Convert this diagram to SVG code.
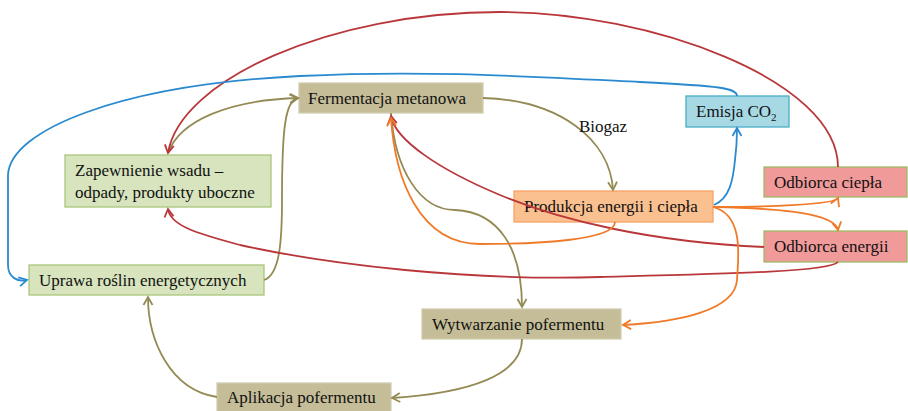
<svg xmlns="http://www.w3.org/2000/svg" width="908" height="411" viewBox="0 0 908 411">
<style>
.t{font-family:"Liberation Serif","Times New Roman",serif;font-size:17px;fill:#111}
.n rect{stroke-width:1.3}
.green rect{fill:#D7E4BD;stroke:#A8C57C}
.tan rect{fill:#C4BD97;stroke:#D2CCAE}
.cyan rect{fill:#A7D9E4;stroke:#4BACC6}
.orng rect{fill:#FAC090;stroke:#F7A468}
.red rect{fill:#F09A9A;stroke:#9DBB63}
.c path{fill:none;stroke-width:1.8}
.ol{stroke:#948A54}
.rd{stroke:#B9373A}
.bl{stroke:#2A8AD0}
.or{stroke:#F07A28}
</style>
<defs>
<marker id="mOl" markerUnits="userSpaceOnUse" viewBox="-10 -6 12 12" markerWidth="12" markerHeight="12" refX="0" refY="0" orient="auto"><path d="M-8,-4.5 L0,0 L-8,4.5" fill="none" stroke="#948A54" stroke-width="1.8"/></marker>
<marker id="mRd" markerUnits="userSpaceOnUse" viewBox="-10 -6 12 12" markerWidth="12" markerHeight="12" refX="0" refY="0" orient="auto"><path d="M-8,-4.5 L0,0 L-8,4.5" fill="none" stroke="#B9373A" stroke-width="1.8"/></marker>
<marker id="mBl" markerUnits="userSpaceOnUse" viewBox="-10 -6 12 12" markerWidth="12" markerHeight="12" refX="0" refY="0" orient="auto"><path d="M-8,-4.5 L0,0 L-8,4.5" fill="none" stroke="#2A8AD0" stroke-width="1.8"/></marker>
<marker id="mOr" markerUnits="userSpaceOnUse" viewBox="-10 -6 12 12" markerWidth="12" markerHeight="12" refX="0" refY="0" orient="auto"><path d="M-8,-4.5 L0,0 L-8,4.5" fill="none" stroke="#F07A28" stroke-width="1.8"/></marker>
</defs>
<rect width="908" height="411" fill="#fff"/>
<g id="n-zapewnienie" class="n green"><rect x="65" y="155" width="206" height="52"/><text class="t" x="75" y="176">Zapewnienie wsadu –</text><text class="t" x="75" y="198">odpady, produkty uboczne</text></g>
<g id="n-uprawa" class="n green"><rect x="29" y="265" width="235" height="30"/><text class="t" x="39" y="286">Uprawa roślin energetycznych</text></g>
<g id="n-fermentacja" class="n tan"><rect x="299" y="83" width="184" height="30"/><text class="t" x="308" y="104">Fermentacja metanowa</text></g>
<g id="n-emisja" class="n cyan"><rect x="686" y="96" width="103" height="31"/><text class="t" x="696" y="117">Emisja CO<tspan font-size="11" dy="4">2</tspan></text></g>
<g id="n-odb-ciepla" class="n red"><rect x="764" y="167" width="143" height="30"/><text class="t" x="774" y="188">Odbiorca ciepła</text></g>
<g id="n-produkcja" class="n orng"><rect x="514" y="191" width="199" height="31"/><text class="t" x="524" y="212">Produkcja energii i ciepła</text></g>
<g id="n-odb-energii" class="n red"><rect x="764" y="231" width="143" height="31"/><text class="t" x="774" y="252">Odbiorca energii</text></g>
<g id="n-wytwarzanie" class="n tan"><rect x="422" y="309" width="199" height="30"/><text class="t" x="432" y="330">Wytwarzanie pofermentu</text></g>
<g id="n-aplikacja" class="n tan"><rect x="217" y="383" width="174" height="30"/><text class="t" x="227" y="403">Aplikacja pofermentu</text></g>
<g id="connectors" class="c">
<path class="ol" d="M483,98 C560,100 610,140 613,190" marker-end="url(#mOl)"/>
<path class="ol" d="M264,280 C280,275 282,240 282,200 C282,130 285,100 298,98" marker-end="url(#mOl)"/>
<path class="ol" d="M168,153 C180,120 230,100 298,98" marker-end="url(#mOl)"/>
<path class="ol" d="M391,113 C395,170 420,210 455,210 C500,212 522,250 522,307" marker-end="url(#mOl)"/>
<path class="ol" d="M522,339 C522,375 470,393 392,398" marker-end="url(#mOl)"/>
<path class="ol" d="M217,397 C170,390 148,340 148,297" marker-end="url(#mOl)"/>
<path class="rd" d="M838,167 C838,80 650,12 500,12 C330,12 180,80 168,153" marker-end="url(#mRd)"/>
<path class="rd" d="M764,247 C650,242 560,220 500,195 C440,170 395,140 391,116" marker-end="url(#mRd)"/>
<path class="rd" d="M838,262 C830,272 720,274 600,277 C470,281 330,265 240,245 C195,233 170,225 168,209" marker-end="url(#mRd)"/>
<path class="or" d="M615,222 C615,240 540,244 480,244 C420,244 395,180 391,118" marker-end="url(#mOr)"/>
<path class="or" d="M713,207 C760,207 835,205 838,198" marker-end="url(#mOr)"/>
<path class="or" d="M713,207 C770,208 835,212 838,230" marker-end="url(#mOr)"/>
<path class="or" d="M713,207 C745,215 738,260 737,280 C735,310 680,322 623,325" marker-end="url(#mOr)"/>
<path class="bl" d="M714,205 C730,198 733,180 735,160 C737,145 737,135 737,128" marker-end="url(#mBl)"/>
<path class="bl" d="M737,96 C737,88 720,86 640,82 C520,76 420,70 300,76 C120,85 10,130 8,175 L8,265 C8,278 18,282 27,280" marker-end="url(#mBl)"/>
</g>
<text class="t" x="579" y="132">Biogaz</text>
</svg>
